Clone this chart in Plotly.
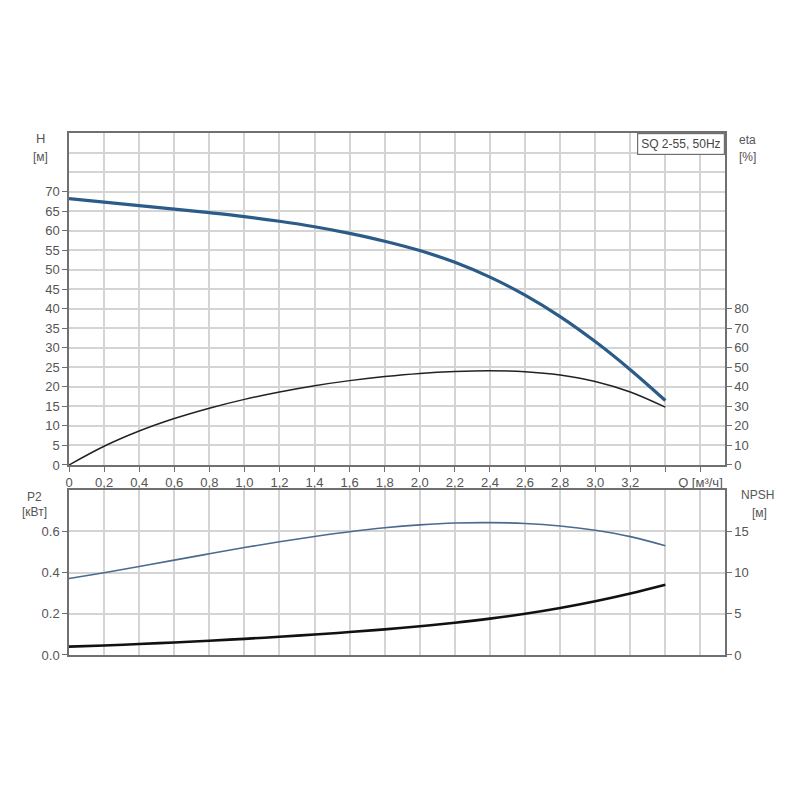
import plotly.graph_objects as go

# Q, m3/h
flow = [0.0, 0.2, 0.4, 0.6, 0.8, 1.0, 1.2, 1.4, 1.6, 1.8, 2.0, 2.2, 2.4, 2.6, 2.8, 3.0, 3.2, 3.4]

# head H, m
head = [68.2, 67.3, 66.4, 65.5, 64.6, 63.6, 62.4, 61.0, 59.3, 57.3, 54.9, 51.9, 48.1, 43.5, 38.0, 31.6, 24.4, 16.5]

# efficiency eta, %
eta = [0.0, 9.6, 17.4, 23.8, 29.1, 33.6, 37.4, 40.6, 43.2, 45.3, 46.9, 47.9, 48.3, 47.8, 46.1, 42.8, 37.4, 29.6]

# power P2, kW
power = [0.371, 0.399, 0.429, 0.460, 0.491, 0.521, 0.549, 0.575, 0.598, 0.617, 0.631, 0.640, 0.642, 0.638, 0.626, 0.605, 0.574, 0.530]

# NPSH, m
npsh = [1.01, 1.16, 1.33, 1.52, 1.73, 1.96, 2.21, 2.48, 2.78, 3.11, 3.48, 3.91, 4.41, 5.00, 5.70, 6.52, 7.46, 8.52]

q_ticks = [0.0, 0.2, 0.4, 0.6, 0.8, 1.0, 1.2, 1.4, 1.6, 1.8, 2.0, 2.2, 2.4, 2.6, 2.8, 3.0, 3.2, 3.4, 3.6]
q_labels = ["0", "0,2", "0,4", "0,6", "0,8", "1,0", "1,2", "1,4", "1,6", "1,8", "2,0",
            "2,2", "2,4", "2,6", "2,8", "3,0", "3,2", "", "Q [м³/ч]"]
h_ticks = list(range(0, 75, 5))
h_extra = [75, 80, 85]
eta_ticks = list(range(0, 90, 10))
p_ticks = [0.0, 0.2, 0.4, 0.6]
p_labels = ["0.0", "0.2", "0.4", "0.6"]
npsh_ticks = [0, 5, 10, 15]

FONT = "Liberation Sans, Arial, sans-serif"
GRID = "#d4d4d4"
AXIS = "#707070"
TXT = "#555555"

fig = go.Figure()

fig.add_trace(go.Scatter(x=flow, y=head, mode="lines", line=dict(color="#2b5b88", width=3.2, shape="spline"),
                         xaxis="x", yaxis="y", name="H"))
fig.add_trace(go.Scatter(x=flow, y=eta, mode="lines", line=dict(color="#222222", width=1.5, shape="spline"),
                         xaxis="x", yaxis="y2", name="eta"))
fig.add_trace(go.Scatter(x=flow, y=power, mode="lines", line=dict(color="#4a6a8e", width=1.6, shape="spline"),
                         xaxis="x2", yaxis="y3", name="P2"))
fig.add_trace(go.Scatter(x=flow, y=npsh, mode="lines", line=dict(color="#111111", width=2.6, shape="spline"),
                         xaxis="x2", yaxis="y4", name="NPSH"))

axis_common = dict(showline=True, linecolor=AXIS, linewidth=1.5, gridcolor=GRID, gridwidth=1.5,
                   zeroline=False, tickfont=dict(family=FONT, size=13, color=TXT),
                   ticks="outside", ticklen=5, tickcolor=AXIS, automargin=False)

# the page adds an 8px body margin, so everything is shifted left/up by 8
fig.update_layout(
    width=800, height=800,
    paper_bgcolor="white", plot_bgcolor="white",
    margin=dict(l=61, r=83, t=125, b=153),
    showlegend=False,
    xaxis=dict(axis_common, domain=[0, 1], range=[0, 3.74], anchor="y",
               tickvals=q_ticks, ticktext=q_labels, mirror=True),
    yaxis=dict(axis_common, domain=[0.364, 1], range=[0, 85], tickvals=h_ticks, mirror=True,
               minor=dict(tickvals=h_extra, showgrid=True, gridcolor=GRID, gridwidth=1.5, ticks="")),
    yaxis2=dict(axis_common, overlaying="y", side="right", range=[0, 170], anchor="x",
                tickvals=eta_ticks, showgrid=False),
    xaxis2=dict(axis_common, domain=[0, 1], range=[0, 3.74], anchor="y3",
                tickvals=q_ticks, showticklabels=False, ticks="", mirror=True),
    yaxis3=dict(axis_common, domain=[0, 0.316], range=[0, 0.8], anchor="x2",
                tickvals=p_ticks, ticktext=p_labels, mirror=True),
    yaxis4=dict(axis_common, overlaying="y3", side="right", range=[0, 20], anchor="x2",
                tickvals=npsh_ticks, showgrid=False),
)

labels = [
    ("H", -0.044, 0.990, 13),
    ("[м]", -0.044, 0.954, 12),
    ("eta", 1.035, 0.987, 12),
    ("[%]", 1.035, 0.954, 12),
    ("P2", -0.052, 0.303, 12),
    ("[кВт]", -0.052, 0.274, 12),
    ("NPSH", 1.049, 0.307, 12),
    ("[м]", 1.053, 0.272, 12),
]
for text, x, y, size in labels:
    fig.add_annotation(text=text, xref="paper", yref="paper", x=x, y=y,
                       showarrow=False, xanchor="center", yanchor="middle",
                       font=dict(family=FONT, size=size, color=TXT))

fig.add_annotation(text="SQ 2-55, 50Hz", xref="paper", yref="paper", x=1.0, y=1.0,
                   xanchor="right", yanchor="top", showarrow=False,
                   font=dict(family=FONT, size=12, color="#444444"),
                   bordercolor=AXIS, borderwidth=1.2, borderpad=3, bgcolor="white")

fig.write_html("out.html")
